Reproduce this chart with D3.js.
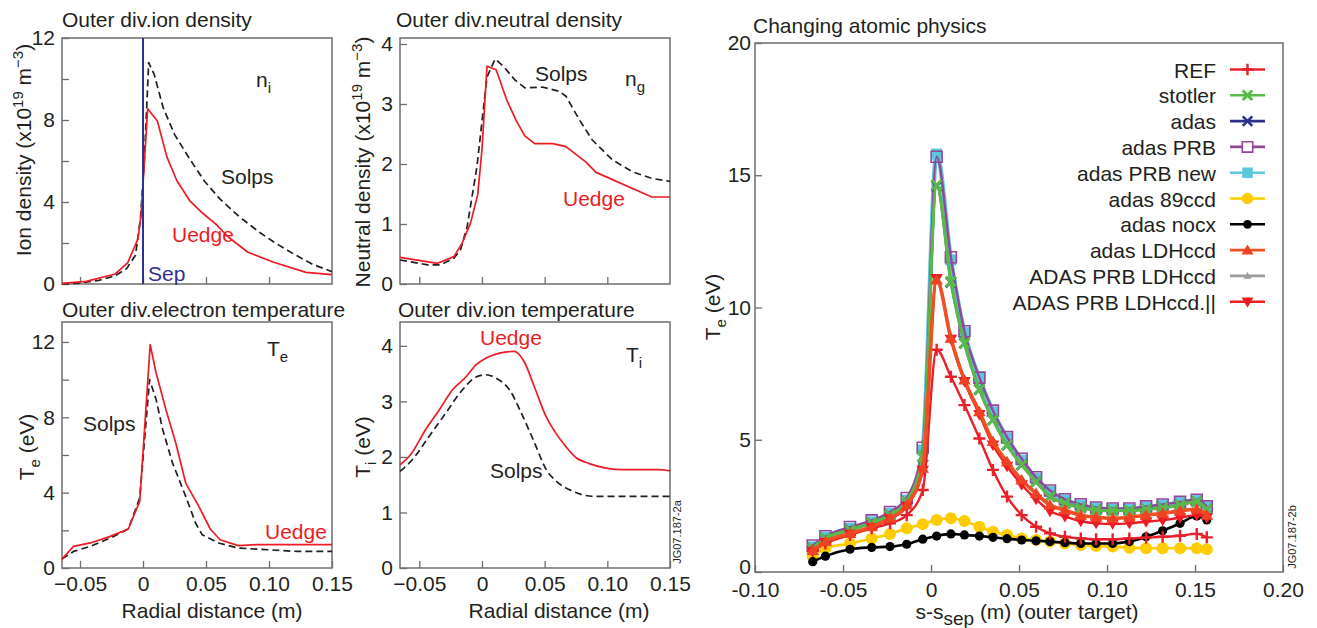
<!DOCTYPE html>
<html>
<head>
<meta charset="utf-8">
<script src="https://cdn.jsdelivr.net/npm/d3@7"></script>
<style>
  body { margin: 0; background: #fff; }
  svg { display: block; }
  text { font-family: "Liberation Sans", Arial, Helvetica, sans-serif; fill: #231f20; }
</style>
</head>
<body>
<svg id="fig" width="1317" height="628"></svg>
<script>
// ---------- Outer divertor profiles (radial distance in m) ----------
const niSolpsX = [-0.0643, -0.05, -0.035, -0.022, -0.013, -0.006, -0.002, 0.001, 0.0045, 0.009, 0.016, 0.025, 0.037, 0.049, 0.061, 0.077, 0.093, 0.105, 0.12, 0.135, 0.15];
const niSolps  = [0.0, 0.05, 0.18, 0.4, 0.75, 1.4, 3.2, 6.0, 10.8, 10.2, 8.6, 7.3, 6.1, 5.0, 4.15, 3.25, 2.5, 2.0, 1.45, 0.95, 0.6];
const niUedgeX = [-0.0643, -0.045, -0.022, -0.0122, -0.004, -0.0015, 0.0037, 0.0114, 0.019, 0.0268, 0.037, 0.0474, 0.0576, 0.0679, 0.0833, 0.1037, 0.1294, 0.15];
const niUedge  = [0.03, 0.13, 0.49, 1.03, 2.2, 3.4, 8.55, 7.95, 6.19, 5.05, 4.07, 3.45, 2.93, 2.28, 1.55, 1.06, 0.57, 0.46];

const ngSolpsX = [-0.0654, -0.0434, -0.033, -0.0224, -0.0171, -0.0118, -0.004, 0.004, 0.0105, 0.0171, 0.0263, 0.0342, 0.0487, 0.0618, 0.067, 0.0776, 0.088, 0.104, 0.12, 0.1355, 0.15];
const ngSolps  = [0.4, 0.32, 0.32, 0.43, 0.57, 0.96, 1.96, 3.45, 3.75, 3.63, 3.4, 3.27, 3.28, 3.21, 3.13, 2.74, 2.4, 2.07, 1.87, 1.76, 1.71];
const ngUedgeX = [-0.0654, -0.0355, -0.0224, -0.0158, -0.0092, -0.0034, 0.0, 0.004, 0.0113, 0.0197, 0.0276, 0.0342, 0.042, 0.0566, 0.067, 0.083, 0.091, 0.1355, 0.15];
const ngUedge  = [0.445, 0.345, 0.456, 0.68, 1.01, 1.49, 2.24, 3.63, 3.57, 3.07, 2.71, 2.47, 2.34, 2.34, 2.29, 2.03, 1.86, 1.45, 1.45];

const teSolpsX = [-0.0643, -0.0552, -0.0417, -0.026, -0.0117, -0.0026, 0.0052, 0.0104, 0.0156, 0.0234, 0.0339, 0.0417, 0.0469, 0.06, 0.0755, 0.099, 0.1224, 0.15];
const teSolps  = [0.48, 0.88, 1.15, 1.59, 2.07, 3.72, 10.0, 8.94, 7.35, 5.58, 3.8, 2.39, 1.77, 1.33, 1.06, 0.97, 0.88, 0.88];
const teUedgeX = [-0.0643, -0.0552, -0.0417, -0.026, -0.0117, -0.0026, 0.0057, 0.0104, 0.0182, 0.026, 0.0339, 0.0443, 0.0534, 0.0612, 0.0755, 0.091, 0.15];
const teUedge  = [0.48, 1.15, 1.33, 1.68, 2.07, 3.54, 11.86, 10.35, 8.4, 6.64, 4.51, 3.27, 2.07, 1.5, 1.19, 1.24, 1.24];

const tiSolpsX = [-0.0654, -0.0556, -0.0422, -0.0289, -0.0155, -0.0048, 0.0032, 0.0112, 0.0219, 0.0326, 0.042, 0.0513, 0.0594, 0.0727, 0.0888, 0.11, 0.15];
const tiSolps  = [1.74, 1.95, 2.37, 2.79, 3.21, 3.44, 3.48, 3.42, 3.21, 2.73, 2.25, 1.77, 1.56, 1.38, 1.29, 1.29, 1.29];
const tiUedgeX = [-0.0654, -0.057, -0.045, -0.034, -0.0235, -0.0128, -0.0048, 0.0032, 0.0139, 0.0259, 0.034, 0.042, 0.0513, 0.058, 0.0668, 0.0749, 0.0856, 0.099, 0.1128, 0.14, 0.15];
const tiUedge  = [1.86, 2.04, 2.49, 2.85, 3.21, 3.44, 3.66, 3.78, 3.87, 3.9, 3.7, 3.25, 2.72, 2.46, 2.19, 1.99, 1.88, 1.8, 1.77, 1.77, 1.75];

const radialTicks = [-0.05, 0, 0.05, 0.10, 0.15];

// ---------- Target Te for different atomic physics (s - s_sep in m) ----------
const sPos = [-0.0672, -0.0600, -0.0460, -0.0337, -0.0233, -0.0138, -0.0047, 0.0032, 0.0113, 0.0190, 0.0275, 0.0352, 0.0432, 0.0515, 0.0597, 0.0676, 0.0761, 0.0851, 0.0938, 0.1032, 0.1127, 0.1222, 0.1316, 0.1415, 0.1510, 0.1567];
const teRef       = [0.8, 1.08, 1.4, 1.65, 1.84, 2.15, 3.1, 8.4, 7.38, 6.31, 5.05, 3.86, 2.85, 2.15, 1.71, 1.46, 1.33, 1.27, 1.24, 1.24, 1.27, 1.3, 1.33, 1.37, 1.44, 1.31];
const teStotler   = [0.9, 1.27, 1.59, 1.86, 2.15, 2.66, 4.36, 14.63, 10.98, 8.65, 6.9, 5.75, 4.8, 4.05, 3.41, 2.85, 2.6, 2.43, 2.34, 2.32, 2.32, 2.37, 2.43, 2.53, 2.66, 2.37];
const teAdas      = [0.9, 1.27, 1.59, 1.86, 2.15, 2.66, 4.36, 14.6, 10.95, 8.65, 6.9, 5.75, 4.8, 4.05, 3.41, 2.85, 2.6, 2.43, 2.34, 2.32, 2.32, 2.37, 2.43, 2.53, 2.66, 2.37];
const teAdasPrb   = [1.0, 1.35, 1.7, 1.95, 2.27, 2.8, 4.7, 15.7, 11.9, 9.1, 7.35, 6.1, 5.1, 4.28, 3.58, 3.08, 2.75, 2.56, 2.44, 2.4, 2.4, 2.48, 2.55, 2.65, 2.73, 2.48];
const teAdasPrbNew= [0.95, 1.31, 1.65, 1.9, 2.22, 2.72, 4.61, 15.8, 11.8, 9.05, 7.32, 6.06, 5.05, 4.23, 3.54, 3.04, 2.72, 2.53, 2.41, 2.37, 2.37, 2.45, 2.52, 2.62, 2.7, 2.45];
const teAdas89ccd = [0.6, 0.9, 1.08, 1.27, 1.44, 1.65, 1.81, 1.97, 2.03, 1.93, 1.71, 1.52, 1.4, 1.27, 1.21, 1.15, 1.08, 1.02, 0.98, 0.96, 0.92, 0.9, 0.9, 0.9, 0.9, 0.86];
const teAdasNocx  = [0.39, 0.6, 0.86, 0.93, 0.96, 1.05, 1.24, 1.36, 1.44, 1.4, 1.36, 1.31, 1.26, 1.21, 1.18, 1.15, 1.11, 1.08, 1.08, 1.08, 1.15, 1.33, 1.56, 1.84, 2.12, 1.97];
const teAdasLdh   = [0.81, 1.15, 1.46, 1.71, 2.03, 2.53, 3.92, 11.04, 8.84, 7.26, 6.06, 4.93, 4.17, 3.48, 2.97, 2.53, 2.34, 2.15, 2.07, 2.03, 2.07, 2.15, 2.22, 2.31, 2.37, 2.15];
const teAdasPrbLdh= [0.81, 1.15, 1.46, 1.71, 2.03, 2.53, 3.92, 11.0, 8.8, 7.24, 6.05, 4.92, 4.16, 3.47, 2.96, 2.52, 2.33, 2.14, 2.06, 2.02, 2.06, 2.14, 2.21, 2.3, 2.36, 2.14];
const teAdasPrbLdhPar = [0.78, 1.12, 1.43, 1.68, 2.0, 2.48, 3.85, 11.1, 8.8, 7.2, 5.95, 4.8, 4.0, 3.3, 2.75, 2.3, 2.1, 1.92, 1.84, 1.82, 1.84, 1.9, 1.96, 2.05, 2.15, 2.05];

const seriesNames = ["REF", "stotler", "adas", "adas PRB", "adas PRB new", "adas 89ccd", "adas nocx", "adas LDHccd", "ADAS PRB LDHccd", "ADAS PRB LDHccd.||"];
const seriesValues = [teRef, teStotler, teAdas, teAdasPrb, teAdasPrbNew, teAdas89ccd, teAdasNocx, teAdasLdh, teAdasPrbLdh, teAdasPrbLdhPar];
const sTicks = [-0.10, -0.05, 0, 0.05, 0.10, 0.15, 0.20];
const teTicks = [0, 5, 10, 15, 20];

// ---------- drawing ----------
const svg = d3.select("#fig");
const FS = 21;
const FRAME = "#6d6e71";
const INK = "#231f20";
const RED = "#ed1c24";
const FONT = '"Liberation Sans", Arial, Helvetica, sans-serif';

function label(g, x, y, parts, opts = {}) {
  // parts: [[text, kind]] with kind "", "sub", "sup"
  const t = g.append("text").attr("x", x).attr("y", y)
    .attr("font-size", opts.size || FS)
    .attr("text-anchor", opts.anchor || "start")
    .style("fill", opts.color || INK);
  if (opts.rotate) t.attr("transform", `rotate(-90,${x},${y})`);
  let shift = 0;
  parts.forEach(([s, kind]) => {
    const want = kind === "sub" ? (opts.subShift || 6) : kind === "sup" ? -8 : 0;
    t.append("tspan").attr("dy", want - shift)
      .attr("font-size", kind ? (opts.smallSize || 15) : (opts.size || FS))
      .text(s);
    shift = want;
  });
  return t;
}

function panel(cfg) {
  const g = svg.append("g");
  const x = d3.scaleLinear().domain(cfg.xDomain).range([cfg.left, cfg.right]);
  const y = d3.scaleLinear().domain(cfg.yDomain).range([cfg.bottom, cfg.top]);

  const xa = d3.axisBottom(x).tickValues(cfg.xTicks).tickSizeInner(-7).tickSizeOuter(0)
    .tickPadding(cfg.xPad || 8).tickFormat(cfg.xFormat);
  const gx = g.append("g").attr("transform", `translate(0,${cfg.bottom})`).call(xa);
  const ya = d3.axisLeft(y).tickValues(cfg.yTicks).tickSizeInner(-7).tickSizeOuter(0)
    .tickPadding(cfg.yPad || 7).tickFormat(cfg.yFormat);
  const gy = g.append("g").attr("transform", `translate(${cfg.left},0)`).call(ya);
  [gx, gy].forEach(a => {
    a.select(".domain").remove();
    a.attr("font-size", FS).attr("font-family", FONT);
    a.selectAll("line").attr("stroke", FRAME).attr("stroke-width", 1.3);
    a.selectAll("text").style("fill", INK);
  });
  g.append("rect").attr("x", cfg.left).attr("y", cfg.top)
    .attr("width", cfg.right - cfg.left).attr("height", cfg.bottom - cfg.top)
    .attr("fill", "none").attr("stroke", FRAME).attr("stroke-width", 1.5);
  return { g, x, y, gx, gy };
}

const radialFmt = d => d === 0 ? "0" : (d < 0 ? "\u2212" : "") + Math.abs(d).toFixed(2);
const noLabel = () => "";
const every = step => d => (d % step === 0 ? String(d) : "");

function profile(p, xs, ys, color, dashed, curve) {
  const line = d3.line().x((d, i) => p.x(xs[i])).y(d => p.y(d)).curve(curve || d3.curveLinear);
  p.g.append("path").datum(ys).attr("d", line)
    .attr("fill", "none").attr("stroke", color).attr("stroke-width", 1.7)
    .attr("stroke-dasharray", dashed ? "7,4" : null)
    .attr("stroke-linejoin", "round");
}

// Ion density
const pNi = panel({ left: 62, right: 332, top: 38, bottom: 284,
  xDomain: [-0.0643, 0.15], yDomain: [0, 12],
  xTicks: [-0.05, 0, 0.05, 0.10], xFormat: noLabel,
  yTicks: d3.range(0, 13, 2), yFormat: every(4) });
profile(pNi, niSolpsX, niSolps, INK, true);
profile(pNi, niUedgeX, niUedge, RED, false);
pNi.g.append("line").attr("x1", pNi.x(0)).attr("x2", pNi.x(0))
  .attr("y1", pNi.y(0)).attr("y2", pNi.y(12))
  .attr("stroke", "#2e3192").attr("stroke-width", 2);
label(pNi.g, 62, 27, [["Outer div.ion density", ""]]);
label(pNi.g, 256, 87, [["n", ""], ["i", "sub"]]);
label(pNi.g, 221, 184, [["Solps", ""]]);
label(pNi.g, 172, 242, [["Uedge", ""]], { color: RED });
label(pNi.g, 148, 281, [["Sep", ""]], { color: "#2e3192" });
label(pNi.g, 31, 150, [["Ion density (x10", ""], ["19", "sup"], [" m", ""], ["\u22123", "sup"], [")", ""]],
  { rotate: true, anchor: "middle" });

// Neutral density
const pNg = panel({ left: 400, right: 670, top: 38, bottom: 284,
  xDomain: [-0.0654, 0.15], yDomain: [0, 4.1],
  xTicks: [-0.05, 0, 0.05, 0.10], xFormat: noLabel,
  yTicks: [0, 1, 2, 3, 4], yFormat: d => String(d) });
profile(pNg, ngSolpsX, ngSolps, INK, true);
profile(pNg, ngUedgeX, ngUedge, RED, false);
label(pNg.g, 396, 27, [["Outer div.neutral density", ""]]);
label(pNg.g, 535, 81, [["Solps", ""]]);
label(pNg.g, 625, 86, [["n", ""], ["g", "sub"]]);
label(pNg.g, 563, 206, [["Uedge", ""]], { color: RED });
label(pNg.g, 370, 162, [["Neutral density (x10", ""], ["19", "sup"], [" m", ""], ["\u22123", "sup"], [")", ""]],
  { rotate: true, anchor: "middle" });

// Electron temperature
const pTe = panel({ left: 62, right: 332, top: 322, bottom: 568,
  xDomain: [-0.0643, 0.15], yDomain: [0, 13.06],
  xTicks: radialTicks, xFormat: radialFmt,
  yTicks: d3.range(0, 13, 2), yFormat: every(4) });
profile(pTe, teSolpsX, teSolps, INK, true);
profile(pTe, teUedgeX, teUedge, RED, false);
label(pTe.g, 62, 317, [["Outer div.electron temperature", ""]]);
label(pTe.g, 267, 356, [["T", ""], ["e", "sub"]]);
label(pTe.g, 83, 431, [["Solps", ""]]);
label(pTe.g, 265, 539, [["Uedge", ""]], { color: RED });
label(pTe.g, 34, 447, [["T", ""], ["e", "sub"], [" (eV)", ""]], { rotate: true, anchor: "middle" });
label(pTe.g, 212, 618, [["Radial distance (m)", ""]], { anchor: "middle" });

// Ion temperature
const pTi = panel({ left: 400, right: 670, top: 322, bottom: 568,
  xDomain: [-0.0654, 0.15], yDomain: [0, 4.43],
  xTicks: radialTicks, xFormat: radialFmt,
  yTicks: [0, 1, 2, 3, 4], yFormat: d => String(d) });
profile(pTi, tiSolpsX, tiSolps, INK, true, d3.curveMonotoneX);
profile(pTi, tiUedgeX, tiUedge, RED, false, d3.curveMonotoneX);
label(pTi.g, 398, 317, [["Outer div.ion temperature", ""]]);
label(pTi.g, 480, 345, [["Uedge", ""]], { color: RED });
label(pTi.g, 626, 362, [["T", ""], ["i", "sub"]]);
label(pTi.g, 490, 478, [["Solps", ""]]);
label(pTi.g, 370, 447, [["T", ""], ["i", "sub"], [" (eV)", ""]], { rotate: true, anchor: "middle" });
label(pTi.g, 559, 618, [["Radial distance (m)", ""]], { anchor: "middle" });
label(pTi.g, 681, 532, [["JG07.187-2a", ""]], { rotate: true, anchor: "middle", size: 11 });

// ---------- Changing atomic physics ----------
const pR = panel({ left: 755, right: 1283, top: 43, bottom: 572,
  xDomain: [-0.10, 0.20], yDomain: [0, 20],
  xTicks: sTicks, xFormat: d => d === 0 ? "0" : d.toFixed(2),
  yTicks: teTicks, yFormat: d => String(d), yPad: 4, xPad: 10 });
// lift the y-axis zero a little so it clears the first x label
pR.gy.selectAll(".tick").filter(d => d === 0).select("text").attr("dy", "0.05em");
label(pR.g, 753, 33, [["Changing atomic physics", ""]]);
label(pR.g, 720, 307, [["T", ""], ["e", "sub"], [" (eV)", ""]], { rotate: true, anchor: "middle" });
label(pR.g, 1027, 619, [["s-s", ""], ["sep", "sub"], [" (m) (outer target)", ""]],
  { anchor: "middle", smallSize: 19, subShift: 6 });
label(pR.g, 1296, 537, [["JG07.187-2b", ""]], { rotate: true, anchor: "middle", size: 11 });

// marker shapes (local coordinates around 0,0)
const markerPath = {
  plus: s => `M${-s},0H${s}M0,${-s}V${s}`,
  cross: s => `M${-s},${-s}L${s},${s}M${-s},${s}L${s},${-s}`,
  square: s => `M${-s},${-s}H${s}V${s}H${-s}Z`,
  circle: s => `M${s},0A${s},${s},0,1,1,${-s},0A${s},${s},0,1,1,${s},0Z`,
  triUp: s => `M0,${-s}L${s * 1.05},${s * 0.75}H${-s * 1.05}Z`,
  triDown: s => `M0,${s}L${s * 1.05},${-s * 0.75}H${-s * 1.05}Z`
};

const styles = [
  { color: "#e8202a", width: 2.4, shape: "plus", size: 6, fill: "none", sw: 2.4 },        // REF
  { color: "#5bb84a", width: 3.2, shape: "cross", size: 5, fill: "none", sw: 3 },         // stotler
  { color: "#2e3192", width: 2.4, shape: "cross", size: 5, fill: "none", sw: 2.6 },       // adas
  { color: "#93479b", width: 2.4, shape: "square", size: 5.5, fill: "none", sw: 1.6 },    // adas PRB
  { color: "#5bc6de", width: 4.5, shape: "square", size: 5.5, fill: "#5bc6de", sw: 0 },   // adas PRB new
  { color: "#ffcc00", width: 2.6, shape: "circle", size: 6, fill: "#ffcc00", sw: 0 },     // adas 89ccd
  { color: "#000000", width: 2.6, shape: "circle", size: 4.6, fill: "#000000", sw: 0 },   // adas nocx
  { color: "#f04e23", width: 3.6, shape: "triUp", size: 6, fill: "#ef4123", sw: 0 },      // adas LDHccd
  { color: "#9d9d9d", width: 2.2, shape: "triUp", size: 4, fill: "#9d9d9d", sw: 0 },      // ADAS PRB LDHccd
  { color: "#ed1c24", width: 2.4, shape: "triDown", size: 6, fill: "#ed1c24", sw: 0 }     // ADAS PRB LDHccd.||
];
// order of drawing (later = on top)
const drawOrder = [4, 3, 2, 1, 5, 6, 0, 8, 9, 7];

const teLine = d3.line().x((d, i) => pR.x(sPos[i])).y(d => pR.y(d)).curve(d3.curveMonotoneX);
const plot = pR.g.append("g");
drawOrder.forEach(k => {
  const st = styles[k];
  const sg = plot.append("g");
  sg.append("path").datum(seriesValues[k]).attr("d", teLine)
    .attr("fill", "none").attr("stroke", st.color).attr("stroke-width", st.width)
    .attr("stroke-linejoin", "round");
  sg.selectAll("path.mk").data(seriesValues[k]).join("path").attr("class", "mk")
    .attr("transform", (d, i) => `translate(${pR.x(sPos[i])},${pR.y(d)})`)
    .attr("d", markerPath[st.shape](st.size))
    .attr("fill", st.fill).attr("stroke", st.sw ? st.color : "none").attr("stroke-width", st.sw);
});

// legend
const leg = pR.g.append("g");
seriesNames.forEach((name, k) => {
  const st = styles[k];
  const cy = 69.5 + k * 25.8;
  leg.append("text").attr("x", 1216).attr("y", cy + 8).attr("text-anchor", "end")
    .attr("font-size", FS).text(name);
  leg.append("line").attr("x1", 1230).attr("x2", 1265).attr("y1", cy).attr("y2", cy)
    .attr("stroke", st.color).attr("stroke-width", 2.6);
  leg.append("path").attr("transform", `translate(1247.5,${cy})`)
    .attr("d", markerPath[st.shape](st.size * 0.95))
    .attr("fill", st.shape === "square" && st.fill === "none" ? "#fff" : st.fill)
    .attr("stroke", st.sw ? st.color : "none").attr("stroke-width", st.sw);
});
</script>
</body>
</html>
